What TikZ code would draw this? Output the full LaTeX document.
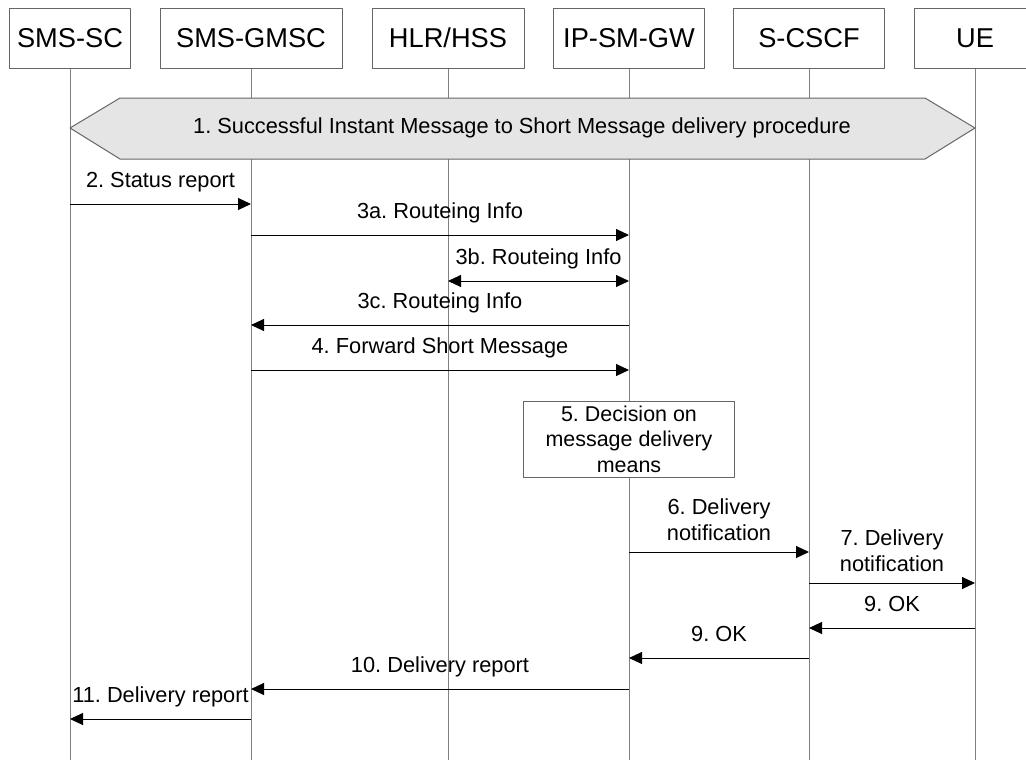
\documentclass[tikz,border=0pt]{standalone}
\usepackage{fontspec}
\setmainfont{Liberation Sans}
\usetikzlibrary{arrows.meta}
\frenchspacing
\begin{document}
\begin{tikzpicture}[x=0.2mm,y=-0.2mm,>={Triangle[length=2.6mm,width=2.4mm]},
  line join=round,
  hdr/.style={draw=black!60,fill=white,line width=0.2mm,minimum height=12mm,inner sep=0pt,font=\fontsize{15.5}{18}\selectfont},
  life/.style={draw=black!50,line width=0.2mm},
  msg/.style={->,line width=0.2mm},
  lbl/.style={above=3.2mm,inner sep=0pt,text depth=0pt,align=center,font=\fontsize{12.4}{14.6}\selectfont},
  lbltwo/.style={lbl,above=-1mm}]
 	\useasboundingbox (0,0) rectangle (1026,760);
 	\coordinate (bot) at (0,760);
	\foreach \n/\x/\w/\t in {sc/70/24.2/SMS-SC, gmsc/251/36.4/SMS-GMSC, hlr/448/30.4/{HLR/HSS},
	  ipsm/629/30.2/IP-SM-GW, cscf/809/30.2/S-CSCF, ue/975/24.4/UE}
	\node[hdr,minimum width=\w mm] (\n) at (\x,38) {\t};
	\foreach \n in {sc,gmsc,hlr,ipsm,cscf,ue}
	\draw[life] (\n.south) -- (\n |- bot);
% 	procedure 1
 	\draw[draw=black!60,fill=black!10,line width=0.2mm] (sc |- 0,128) -- (120,98) -- (925,98)
 	  -- (ue |- 0,128) -- (925,159) -- (120,159) -- cycle;
 	\node[font=\fontsize{12.4}{14.6}\selectfont,inner sep=0pt] (p1) at (522,128)
 	  {1. Successful Instant Message to Short Message delivery procedure};
 	\draw[msg] (sc |- 0,204) -- node[lbl] (t2) {2. Status report} (gmsc |- 0,204);
 	\draw[msg] (gmsc |- 0,235) -- node[lbl] (t3a) {3a. Routeing Info} (ipsm |- 0,235);
 	\draw[msg,<->] (hlr |- 0,281) -- node[lbl] (t3b) {3b. Routeing Info} (ipsm |- 0,281);
 	\draw[msg] (ipsm |- 0,325) -- node[lbl] (t3c) {3c. Routeing Info} (gmsc |- 0,325);
 	\draw[msg] (gmsc |- 0,370) -- node[lbl] (t4) {4. Forward Short Message} (ipsm |- 0,370);
 	\node[draw=black!60,fill=white,line width=0.2mm,minimum width=42.2mm,minimum height=15.2mm,
 	  inner sep=0pt,align=center,font=\fontsize{12.2}{14.6}\selectfont] (d5) at (629,439)
 	  {5. Decision on\\message delivery\\means};
 	\draw[msg] (ipsm |- 0,552) -- node[lbltwo] (t6) {6. Delivery\\notification} (cscf |- 0,552);
 	\draw[msg] (cscf |- 0,583) -- node[lbltwo] (t7) {7. Delivery\\notification} (ue |- 0,583);
 	\draw[msg] (ue |- 0,628) -- node[lbl] (t9a) {9. OK} (cscf |- 0,628);
 	\draw[msg] (cscf |- 0,658) -- node[lbl] (t9b) {9. OK} (ipsm |- 0,658);
 	\draw[msg] (ipsm |- 0,689) -- node[lbl] (t10) {10. Delivery report} (gmsc |- 0,689);
 	\draw[msg] (gmsc |- 0,719) -- node[lbl] (t11) {11. Delivery report} (sc |- 0,719);
\end{tikzpicture}
\end{document}
